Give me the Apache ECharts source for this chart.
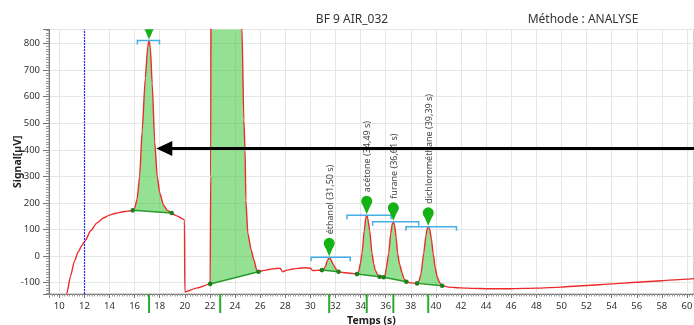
<!DOCTYPE html>
<html><head><meta charset="utf-8">
<script src="https://cdn.jsdelivr.net/npm/echarts@6/dist/echarts.min.js"></script>
<style>html,body{margin:0;padding:0;background:#fff}#c{width:694px;height:325px}</style>
</head><body><div id="c"></div>
<script>
// Chromatogram signal (time in s, signal in µV)
const timeS = [10.3,10.59,10.9,11.2,11.5,11.8,12.05,12.5,13.0,13.5,14.0,14.5,15.0,15.5,
  15.85,16.0,16.2,16.4,16.6,16.85,17.05,17.15,17.25,17.4,17.6,17.8,18.0,18.3,18.6,18.95,
  19.3,19.97,20.0,21.0,
  22.02,22.06,22.12,22.5,23.5,24.2,24.55,24.7,24.8,24.86,25.02,25.29,25.5,25.74,25.87,
  26.3,26.8,27.3,27.6,27.72,27.81,28.13,28.6,29.1,29.59,29.99,30.2,30.5,
  30.92,31.05,31.19,31.35,31.5,31.65,31.8,31.99,32.1,32.25,
  32.6,33.0,33.4,
  33.71,33.85,34.0,34.11,34.3,34.42,34.49,34.58,34.72,34.91,35.05,35.17,35.35,35.52,
  35.84,35.95,36.05,36.24,36.4,36.52,36.61,36.72,36.83,36.95,37.1,37.3,37.45,37.65,
  38.0,
  38.5,38.65,38.8,39.03,39.2,39.32,39.39,39.5,39.64,39.78,39.95,40.1,40.3,40.5,
  41.0,42.0,43.0,44.0,46.0,48.0,50.0,52.0,54.0,56.0,58.0,60.0,60.6];
const signal = [-250,-143,-75,-20,15,40,57,95,125,143,154,161,166,169,
  172,180,215,300,470,670,790,812,785,650,430,300,238,192,172,162,
  152,137,-135,-120,
  -105,300,2000,5000,6000,3000,860,512,398,210,85,22,-15,-55,-59,
  -54,-50,-47,-46,-56,-59,-53,-49,-46,-44,-46,-55,-54,
  -53,-50,-40,-18,-5,-15,-30,-45,-53,-59,
  -62,-64,-66,
  -68,-58,-25,10,98,145,154,140,98,10,-30,-53,-70,-78,
  -80,-72,-45,10,85,120,129,115,70,10,-30,-62,-85,-97,
  -101,
  -103,-95,-70,10,75,105,110,102,65,10,-45,-78,-100,-112,
  -117,-120,-122,-123,-123,-121,-117,-111,-105,-99,-93,-87,-85];

// Integrated peaks
const peakStart = [15.85, 22.02, 30.92, 33.71, 35.84, 38.5];
const peakEnd   = [18.95, 25.87, 32.25, 35.52, 37.65, 40.5];
const peakTime  = [17.15, 22.82, 31.50, 34.49, 36.61, 39.39];
const peakApex  = [812, 6000, -5, 154, 129, 110];
const peakNames = ['', '', 'éthanol (31,50 s)', 'acétone (34,49 s)', 'furane (36,61 s)', 'dichlorométhane (39,39 s)'];
const bracketStart = [16.22, 21.6, 30.05, 32.92, 34.96, 37.62];
const bracketEnd   = [17.98, 24.4, 33.18, 36.43, 38.63, 41.64];

const markerTime = [12];
const arrowTip = [17.73, 405];
const arrowTailTime = 61;

const chart = echarts.init(document.getElementById('c'), null, {renderer: 'canvas'});
const FONT = '"Noto Sans", "DejaVu Sans", sans-serif';
const peakData = peakTime.map((t, i) => [t, peakApex[i]]);

function peakPoints(i, api) {
  const s = peakStart[i], e = peakEnd[i], pts = [];
  for (let k = 0; k < timeS.length; k++) {
    const t = timeS[k];
    if (t >= s - 1e-9 && t <= e + 1e-9) pts.push(api.coord([t, signal[k]]));
  }
  return pts;
}

const option = {
  animation: false,
  backgroundColor: '#fff',
  grid: {left: 49, top: 29.5, right: 0, bottom: 31, show: true, borderColor: '#a8a8a8', borderWidth: 1,
    containLabel: false, outerBoundsMode: 'none'},
  graphic: [
    {type: 'text', x: 352, y: 20, style: {text: 'BF 9 AIR_032', align: 'center', verticalAlign: 'middle', font: '12px ' + FONT, fill: '#333'}},
    {type: 'text', x: 583, y: 20, style: {text: 'Méthode : ANALYSE', align: 'center', verticalAlign: 'middle', font: '12px ' + FONT, fill: '#333'}}
  ],
  xAxis: {
    type: 'value', min: 9.18, max: 60.56, splitNumber: 25,
    axisLine: {show: true, onZero: false, lineStyle: {color: '#777'}},
    axisTick: {show: true, length: 4, lineStyle: {color: '#777'}},
    minorTick: {show: true, splitNumber: 10, length: 2.5, lineStyle: {color: '#999'}},
    splitLine: {show: true, lineStyle: {color: '#e6e6e6'}},
    axisLabel: {fontSize: 9.5, fontFamily: FONT, color: '#333', margin: 7,
      formatter: v => { const r = Math.round(v); return (Math.abs(v - r) < 1e-6 && r % 2 === 0) ? String(r) : ''; }},
    name: 'Temps (s)', nameLocation: 'middle', nameGap: 22, nameMoveOverlap: false,
    nameTextStyle: {fontWeight: 'bold', fontSize: 10.5, fontFamily: FONT, color: '#222'}
  },
  yAxis: {
    type: 'value', min: -143, max: 853, splitNumber: 10,
    axisLine: {show: true, lineStyle: {color: '#777'}},
    axisTick: {show: true, length: 6, lineStyle: {color: '#777'}},
    minorTick: {show: true, splitNumber: 10, length: 3, lineStyle: {color: '#999'}},
    splitLine: {show: true, lineStyle: {color: '#e6e6e6'}},
    axisLabel: {fontSize: 9.5, fontFamily: FONT, color: '#333', margin: 9,
      formatter: v => { const r = Math.round(v); return (Math.abs(v - r) < 1e-6 && r % 100 === 0) ? String(r) : ''; }},
    name: 'Signal[µV]', nameLocation: 'middle', nameGap: 25.5, nameMoveOverlap: false,
    nameTextStyle: {fontWeight: 'bold', fontSize: 10.5, fontFamily: FONT, color: '#222'}
  },
  series: [
    { // peak fills
      type: 'custom', z: 1, clip: true, data: peakData,
      renderItem: (params, api) => {
        const pts = peakPoints(params.dataIndex, api);
        return {type: 'polygon', shape: {points: pts}, style: {fill: 'rgba(60,200,60,0.55)'}};
      }
    },
    { // signal
      type: 'line', z: 3, data: timeS.map((t, k) => [t, signal[k]]),
      symbol: 'none', showSymbol: false, smooth: 0.2, smoothMonotone: 'x', clip: true,
      lineStyle: {color: '#ee2b2b', width: 1.4},
      markLine: {silent: true, symbol: 'none', label: {show: false}, animation: false,
        lineStyle: {color: '#2626ff', type: [2, 1], width: 1.2},
        data: markerTime.map(t => ({xAxis: t}))}
    },
    { // baselines + dots
      type: 'custom', z: 4, clip: true, data: peakData,
      renderItem: (params, api) => {
        const pts = peakPoints(params.dataIndex, api);
        const a = pts[0], b = pts[pts.length - 1];
        return {type: 'group', children: [
          {type: 'line', shape: {x1: a[0], y1: a[1], x2: b[0], y2: b[1]}, style: {stroke: '#2a9a2a', lineWidth: 1.5}},
          {type: 'circle', shape: {cx: a[0], cy: a[1], r: 2.3}, style: {fill: '#1d7f1d'}},
          {type: 'circle', shape: {cx: b[0], cy: b[1], r: 2.3}, style: {fill: '#1d7f1d'}}
        ]};
      }
    },
    { // brackets
      type: 'custom', z: 5, clip: true, data: peakData,
      renderItem: (params, api) => {
        const i = params.dataIndex;
        const p1 = api.coord([bracketStart[i], peakApex[i]]);
        const p2 = api.coord([bracketEnd[i], peakApex[i]]);
        return {type: 'polyline', shape: {points: [[p1[0], p1[1] + 4], [p1[0], p1[1]], [p2[0], p2[1]], [p2[0], p2[1] + 4]]},
          style: {stroke: '#45aee8', lineWidth: 1.5, fill: null}};
      }
    },
    { // pins
      type: 'custom', z: 6, clip: true, data: peakData,
      renderItem: (params, api) => {
        const p = api.coord([peakTime[params.dataIndex], peakApex[params.dataIndex]]);
        return {type: 'group', children: [
          {type: 'circle', shape: {cx: p[0], cy: p[1] - 14, r: 5.5}, style: {fill: '#15b215'}},
          {type: 'polygon', shape: {points: [[p[0] - 5, p[1] - 12.5], [p[0] + 5, p[1] - 12.5], [p[0], p[1] - 1]]}, style: {fill: '#15b215'}}
        ]};
      }
    },
    { // labels
      type: 'custom', z: 6, clip: false, data: peakData,
      renderItem: (params, api) => {
        const i = params.dataIndex;
        if (!peakNames[i]) return {type: 'group', children: []};
        const p = api.coord([peakTime[i], peakApex[i]]);
        return {type: 'text', x: p[0] + 1, y: p[1] - 23, rotation: Math.PI / 2,
          style: {text: peakNames[i], align: 'left', verticalAlign: 'middle', fill: '#444', font: '9px ' + FONT}};
      }
    },
    { // retention time ticks under axis
      type: 'custom', z: 6, clip: false, data: peakData,
      renderItem: (params, api) => {
        const x = api.coord([peakTime[params.dataIndex], 0])[0];
        const y0 = params.coordSys.y + params.coordSys.height;
        return {type: 'line', shape: {x1: x, y1: y0, x2: x, y2: y0 + 19}, style: {stroke: '#2fa82f', lineWidth: 2}};
      }
    },
    { // arrow
      type: 'custom', z: 7, clip: false, data: [arrowTip],
      renderItem: (params, api) => {
        const p = api.coord(arrowTip);
        const q = api.coord([arrowTailTime, arrowTip[1]]);
        return {type: 'group', children: [
          {type: 'line', shape: {x1: p[0] + 14, y1: p[1], x2: q[0], y2: q[1]}, style: {stroke: '#000', lineWidth: 3}},
          {type: 'polygon', shape: {points: [[p[0], p[1]], [p[0] + 16, p[1] - 7.5], [p[0] + 16, p[1] + 7.5]]}, style: {fill: '#000'}}
        ]};
      }
    }
  ]
};
chart.setOption(option);
</script>
</body></html>
